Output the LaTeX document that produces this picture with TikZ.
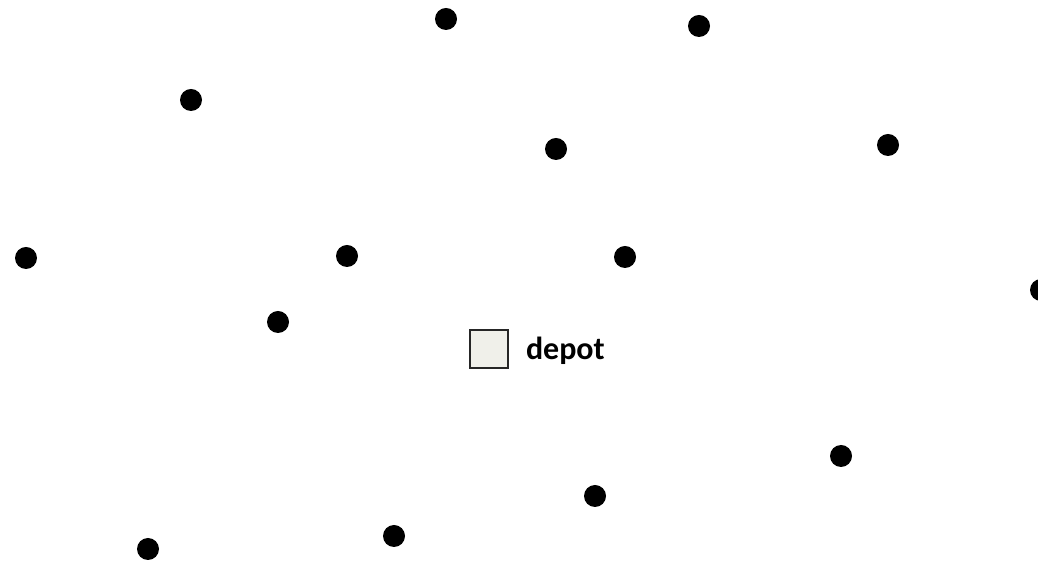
\documentclass[tikz,border=0pt]{standalone}
\usepackage{fontspec}
\setsansfont{Carlito}
\usetikzlibrary{positioning}
\definecolor{depotfill}{HTML}{F0F0EA}
\definecolor{depotline}{HTML}{262626}
\begin{document}
\begin{tikzpicture}[x=1pt,y=1pt,font=\sffamily\bfseries,
  customer/.style={circle,fill=black,inner sep=0pt,minimum size=22pt},
  depotbox/.style={draw=depotline,line width=1.6pt,fill=depotfill,inner sep=0pt,minimum size=38pt},
  lbl/.style={font=\fontsize{32}{33}\selectfont\sffamily\bfseries,inner sep=0pt}]
  \useasboundingbox (0,0) rectangle (1038,561);
  \clip (0,0) rectangle (1038,561);
  \node[customer] (c1) at (446,542) {};
  \node[customer] (c2) at (699,535) {};
  \node[customer] (c3) at (191,461) {};
  \node[customer] (c4) at (556,412) {};
  \node[customer] (c5) at (888,416) {};
  \node[customer] (c6) at (26,303) {};
  \node[customer] (c7) at (347,305) {};
  \node[customer] (c8) at (625,304) {};
  \node[customer] (c9) at (1041,271) {};
  \node[customer] (c10) at (278,239) {};
  \node[customer] (c11) at (841,105) {};
  \node[customer] (c12) at (595,65) {};
  \node[customer] (c13) at (394,25) {};
  \node[customer] (c14) at (148,12) {};
  \node[depotbox] (depot) at (489,212) {};
  \node[lbl,right=17pt of depot,yshift=-2pt] (depotlbl) {depot};
\end{tikzpicture}
\end{document}
